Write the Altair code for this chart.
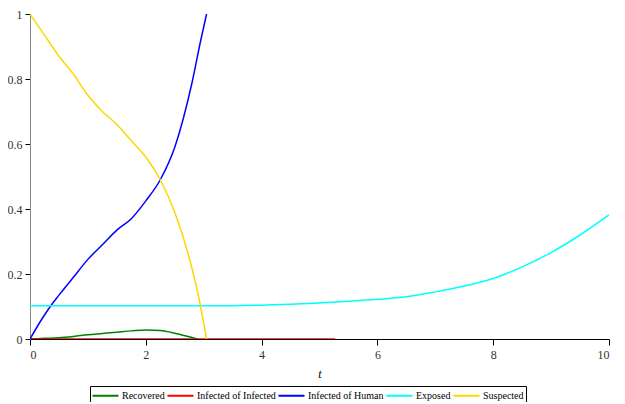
import altair as alt
import pandas as pd

series_names = ["Recovered", "Infected of Infected", "Infected of Human", "Exposed", "Suspected"]
series_colors = ["#008000", "#FF0000", "#0000FF", "#00FFFF", "#FFD700"]

rec_t = [0, 0.25, 0.5, 0.75, 1.0, 1.25, 1.5, 1.75, 2.0, 2.25, 2.5, 2.75, 2.9]
rec_y = [0, 0.002, 0.004, 0.008, 0.013, 0.017, 0.021, 0.025, 0.028, 0.026, 0.018, 0.007, 0.0]

ii_t = [0, 5.27]
ii_y = [0, 0]

ih_t = [0, 0.2, 0.35, 0.5, 0.75, 1.0, 1.25, 1.5, 1.75, 2.0, 2.25, 2.5, 2.65, 2.8, 2.95, 3.05]
ih_y = [0, 0.06, 0.10, 0.135, 0.19, 0.245, 0.29, 0.335, 0.37, 0.425, 0.49, 0.59, 0.68, 0.79, 0.92, 1.0]

ex_t = [0, 1, 2, 3, 4, 4.5, 5, 5.5, 6, 6.5, 7, 7.5, 8, 8.5, 9, 9.5, 10]
ex_y = [0.102, 0.102, 0.102, 0.102, 0.104, 0.107, 0.111, 0.116, 0.122, 0.130, 0.145, 0.163, 0.186, 0.222, 0.266, 0.32, 0.382]

su_t = [0, 0.25, 0.5, 0.75, 1.0, 1.25, 1.5, 1.75, 2.0, 2.25, 2.5, 2.75, 2.9, 3.05]
su_y = [1.0, 0.935, 0.87, 0.815, 0.75, 0.70, 0.66, 0.61, 0.56, 0.49, 0.39, 0.25, 0.14, 0.0]

rows = []
for name, ts, ys in zip(series_names,
                        [rec_t, ii_t, ih_t, ex_t, su_t],
                        [rec_y, ii_y, ih_y, ex_y, su_y]):
    for i, (t, y) in enumerate(zip(ts, ys)):
        rows.append({"series": name, "t": t, "y": y, "i": i})
df = pd.DataFrame(rows)

serif = "Liberation Serif"

chart = alt.Chart(df).mark_line(strokeWidth=1.5, clip=True, interpolate="monotone").encode(
    x=alt.X("t:Q", scale=alt.Scale(domain=[0, 10], nice=False, zero=False),
            axis=alt.Axis(title="t", values=[0, 2, 4, 6, 8, 10], grid=False,
                          domainColor="#000000", tickColor="#000000", tickSize=6,
                          labelFont=serif, titleFont=serif,
                          labelFontSize=12, labelColor="#333333",
                          titleFontSize=12, titleFontStyle="italic",
                          titleFontWeight="normal", titlePadding=8, labelPadding=4)),
    y=alt.Y("y:Q", scale=alt.Scale(domain=[0, 1], nice=False),
            axis=alt.Axis(title=None, values=[0, 0.2, 0.4, 0.6, 0.8, 1.0], grid=False,
                          format="~g", labelFont=serif,
                          domainColor="#888888", tickColor="#000000", tickSize=5,
                          labelFontSize=12, labelColor="#333333",
                          labelPadding=3)),
    color=alt.Color("series:N",
                    scale=alt.Scale(domain=series_names, range=series_colors),
                    sort=series_names,
                    legend=alt.Legend(title=None, orient="none", legendX=60, legendY=372,
                                      direction="horizontal", columns=5,
                                      symbolType="M-2,0H2", symbolSize=169,
                                      symbolStrokeWidth=2, labelFont=serif,
                                      labelFontSize=10, labelColor="#000000",
                                      strokeColor="#000000", padding=2,
                                      columnPadding=-2, symbolOffset=6, labelOffset=9)),
    order="i:Q",
).properties(
    width=579, height=325,
    autosize=alt.AutoSizeParams(type="none"),
    padding={"left": 22, "top": 6, "right": 8, "bottom": 63},
).configure(background="white", font=serif).configure_view(stroke=None)

chart.save("out.html", embed_options={"renderer": "svg", "actions": False})
